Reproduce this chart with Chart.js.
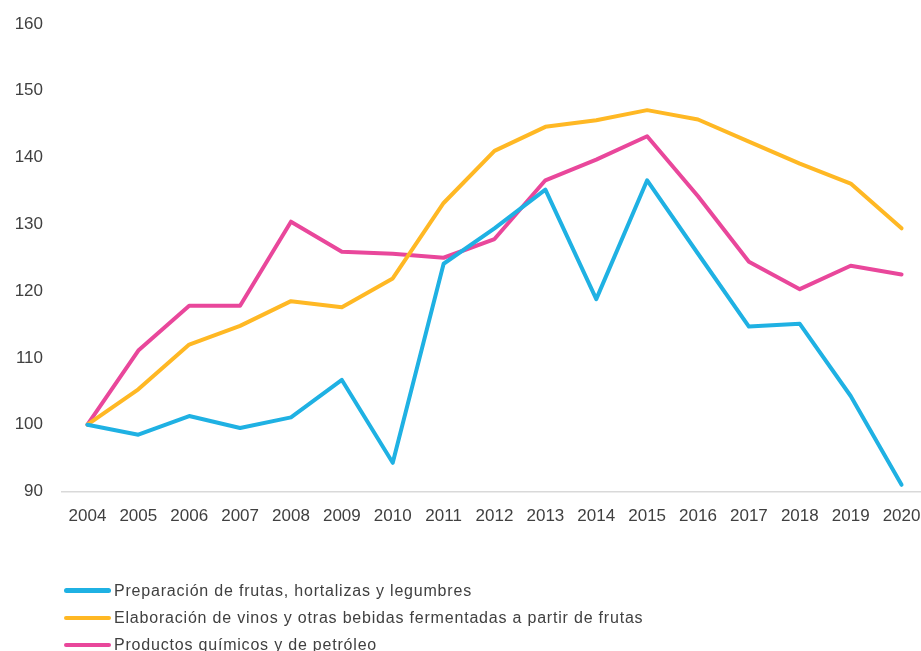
<!DOCTYPE html>
<html>
<head>
<meta charset="utf-8">
<script src="https://cdn.jsdelivr.net/npm/chart.js@4.4.1/dist/chart.umd.min.js"></script>
<style>
  html, body { margin: 0; padding: 0; background: #fff; overflow: hidden; width: 921px; height: 651px; }
  #wrap { position: absolute; left: 0; top: 0; width: 927px; height: 651px; }
  #legend { position: absolute; left: 64px; top: 577px; font-family: "Liberation Sans", Arial, sans-serif; font-size: 16px; letter-spacing: 0.8px; color: #404040; }
  .item { display: flex; align-items: center; height: 27.3px; }
  .sw { width: 47px; height: 4.5px; border-radius: 2.5px; margin-right: 3px; }
</style>
</head>
<body>
<div id="wrap"><canvas id="c" width="927" height="651"></canvas></div>
<div id="legend"></div>
<script>
const years = ["2004","2005","2006","2007","2008","2009","2010","2011","2012","2013","2014","2015","2016","2017","2018","2019","2020"];
const frutas = [100, 98.5, 101.3, 99.5, 101.1, 106.7, 94.3, 124.1, 129.4, 135.2, 118.8, 136.6, 125.6, 114.7, 115.1, 104.3, 91.0];
const vinos = [100, 105.3, 112.0, 114.8, 118.5, 117.6, 121.9, 133.2, 141.0, 144.6, 145.6, 147.1, 145.7, 142.4, 139.1, 136.1, 129.4];
const quimicos = [100, 111.1, 117.8, 117.8, 130.4, 125.9, 125.6, 125.0, 127.8, 136.6, 139.7, 143.2, 134.2, 124.4, 120.3, 123.8, 122.5];
const seriesNames = ["Preparación de frutas, hortalizas y legumbres", "Elaboración de vinos y otras bebidas fermentadas a partir de frutas", "Productos químicos y de petróleo"];
const seriesColors = ["#1FB1E3", "#FFB824", "#E9479B"];
const yTicks = { min: 90, max: 160, step: 10 };

const values = [frutas, vinos, quimicos];
const chart = new Chart(document.getElementById('c'), {
  type: 'line',
  data: {
    labels: years,
    datasets: values.map((v, i) => ({
      label: seriesNames[i],
      data: v,
      borderColor: seriesColors[i],
      backgroundColor: seriesColors[i],
      borderWidth: 4,
      pointRadius: 0,
      tension: 0,
      borderJoinStyle: 'round',
      borderCapStyle: 'round'
    }))
  },
  options: {
    responsive: false,
    animation: false,
    layout: { padding: { top: 24, right: 0, left: 0, bottom: 0 } },
    plugins: { legend: { display: false }, tooltip: { enabled: false } },
    scales: {
      x: {
        offset: true,
        grid: { display: false, drawTicks: false },
        border: { display: true, color: '#D9D9D9', width: 1.5 },
        ticks: { autoSkip: false, maxRotation: 0, padding: 15, color: '#404040', font: { family: 'Liberation Sans', size: 17 } },
        afterFit: (s) => { s.height = 159.5; s.paddingLeft = 0; s.paddingRight = 0; }
      },
      y: {
        min: yTicks.min, max: yTicks.max,
        grid: { display: false, drawTicks: false },
        border: { display: false },
        ticks: { stepSize: yTicks.step, padding: 19, color: '#404040', font: { family: 'Liberation Sans', size: 17 } },
        afterFit: (s) => { s.width = 62; s.paddingTop = 0; s.paddingBottom = 0; }
      }
    }
  }
});

const legend = document.getElementById('legend');
chart.data.datasets.forEach(ds => {
  const row = document.createElement('div');
  row.className = 'item';
  const sw = document.createElement('div');
  sw.className = 'sw';
  sw.style.background = ds.borderColor;
  const t = document.createElement('span');
  t.textContent = ds.label;
  row.appendChild(sw); row.appendChild(t);
  legend.appendChild(row);
});
</script>
</body>
</html>
